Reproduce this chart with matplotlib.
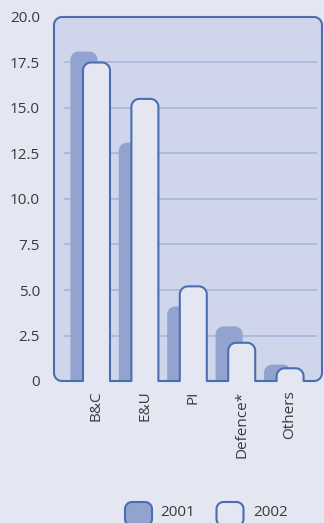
import numpy as np
import matplotlib
matplotlib.use("Agg")
import matplotlib.pyplot as plt
from matplotlib.path import Path
from matplotlib.patches import PathPatch
from matplotlib.transforms import IdentityTransform

categories = ["B&C", "E&U", "PI", "Defence*", "Others"]
values_2001 = [18.1, 13.1, 4.1, 3.0, 0.9]
values_2002 = [17.5, 15.5, 5.2, 2.1, 0.7]
yticks = [0, 2.5, 5.0, 7.5, 10.0, 12.5, 15.0, 17.5, 20.0]
ytick_labels = ["0", "2.5", "5.0", "7.5", "10.0", "12.5", "15.0", "17.5", "20.0"]
series_names = ["2001", "2002"]

BG = "#e4e6f2"
PANEL = "#cfd5ea"
DARK = "#93a3cf"
EDGE = "#4a6fb0"
GRID = "#a6b2d9"
TEXT = "#3a3a3a"

plt.rcParams["font.family"] = ["Open Sans", "DejaVu Sans"]
plt.rcParams["font.size"] = 11

W, H, DPI = 324, 523, 100
fig = plt.figure(figsize=(W / DPI, H / DPI), dpi=DPI, facecolor=BG)
ax = fig.add_axes([54 / W, 142 / H, 268 / W, 364 / H])
ax.set_facecolor("none")
ax.set_xlim(-0.878, 4.659)
ax.set_ylim(0, 20)
for s in ax.spines.values():
    s.set_visible(False)

x = np.arange(len(categories))
bar_w = 0.558
off_2001 = -0.26


def arc(cx, cy, r, a0, a1, n=12):
    t = np.radians(np.linspace(a0, a1, n))
    return list(zip(cx + r * np.cos(t), cy + r * np.sin(t)))


def rounded_top(x0, x1, y0, y1, r):
    # rectangle with rounded top corners, display coords
    pts = [(x0, y0), (x0, y1 - r)]
    pts += arc(x0 + r, y1 - r, r, 180, 90)
    pts += arc(x1 - r, y1 - r, r, 90, 0)
    pts += [(x1, y0)]
    return pts


def to_px(xv, yv):
    return ax.transData.transform((xv, yv))


# panel outline: rounded box with the 2002 bars cut out of the bottom
(L, B) = ax.transAxes.transform((0, 0))
(R, T) = ax.transAxes.transform((1, 1))
r = 8
rb = 8
pts = [(L, B + r), (L, T - r)]
pts += arc(L + r, T - r, r, 180, 90)
pts += arc(R - r, T - r, r, 90, 0)
pts += arc(R - r, B + r, r, 0, -90)
for xi, v in reversed(list(zip(x, values_2002))):
    x0, _ = to_px(xi - bar_w / 2, 0)
    x1, top = to_px(xi + bar_w / 2, v)
    pts += [(x1, B), (x1, top - rb)]
    pts += arc(x1 - rb, top - rb, rb, 0, 90)
    pts += arc(x0 + rb, top - rb, rb, 90, 180)
    pts += [(x0, B)]
pts += arc(L + r, B + r, r, 270, 180)
codes = [Path.MOVETO] + [Path.LINETO] * (len(pts) - 2) + [Path.CLOSEPOLY]
panel_path = Path(pts, codes)

panel = PathPatch(panel_path, facecolor=PANEL, edgecolor="none",
                  transform=IdentityTransform(), clip_on=False, zorder=1)
ax.add_patch(panel)

grid = ax.hlines(yticks[1:-1], -0.67, 4.55, colors=GRID, linewidth=1.1, zorder=2)
grid.set_clip_path(panel)

for xi, v in zip(x, values_2001):
    x0, y0 = to_px(xi + off_2001 - bar_w / 2, 0)
    x1, y1 = to_px(xi + off_2001 + bar_w / 2, v)
    bp = PathPatch(Path(rounded_top(x0, x1, y0, y1, rb)), facecolor=DARK,
                   edgecolor="none", transform=IdentityTransform(), zorder=3)
    ax.add_patch(bp)
    bp.set_clip_path(panel)

outline = PathPatch(panel_path, facecolor="none", edgecolor=EDGE, linewidth=1.5,
                    joinstyle="round", transform=IdentityTransform(),
                    clip_on=False, zorder=4)
ax.add_patch(outline)

ax.set_yticks(yticks, ytick_labels, color=TEXT)
ax.set_xticks(x, categories, rotation=90, color=TEXT, va="top")
ax.tick_params(axis="y", length=0, pad=10)
ax.tick_params(axis="x", length=0, pad=7)

# legend
def legend_box(cx, fill):
    x0, x1, y0, y1, rr = cx - 13.5, cx + 13.5, -3, 21, 7
    p = rounded_top(x0, x1, y0 + rr, y1, rr)[1:-1]
    p += arc(x1 - rr, y0 + rr, rr, 0, -90) + arc(x0 + rr, y0 + rr, rr, 270, 180)
    p = p + [p[0]]
    fig.add_artist(PathPatch(Path(p, closed=True), facecolor=fill, edgecolor=EDGE,
                             linewidth=1.5, transform=IdentityTransform()))


legend_box(138.5, DARK)
legend_box(230, BG)
fig.text(160 / W, 10 / H, series_names[0], va="center", ha="left", color=TEXT)
fig.text(253 / W, 10 / H, series_names[1], va="center", ha="left", color=TEXT)

fig.savefig("out.png", dpi=DPI, facecolor=BG)
